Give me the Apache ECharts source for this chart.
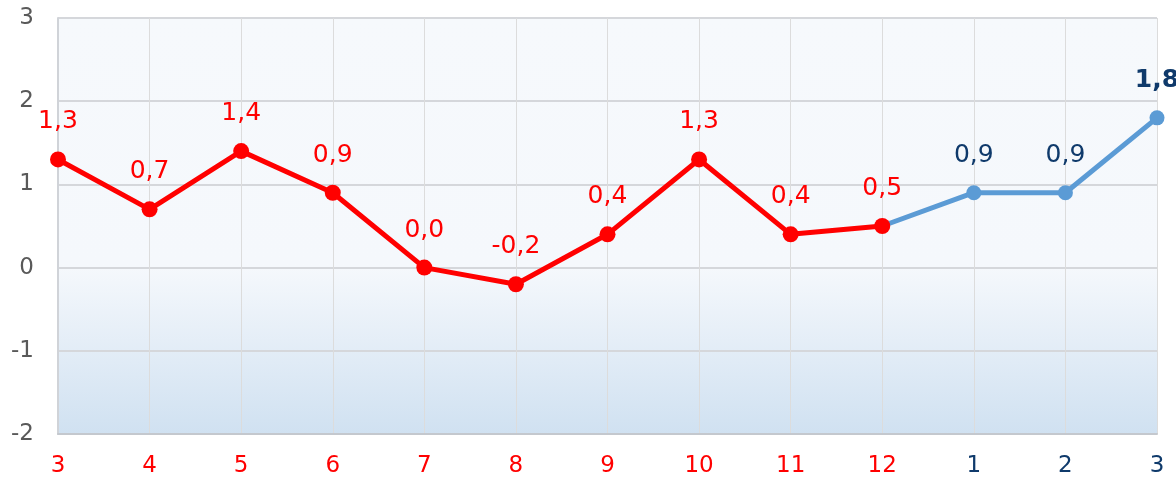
<!DOCTYPE html>
<html>
<head>
<meta charset="utf-8">
<script src="https://cdn.jsdelivr.net/npm/echarts@6/dist/echarts.min.js"></script>
<style>
  html, body { margin: 0; padding: 0; background: #fff; }
  #chart { width: 1176px; height: 478px; }
</style>
</head>
<body>
<div id="chart"></div>
<script>
// months: 3..12 of one year (red), then 1..3 of the next (blue)
const months = ['3', '4', '5', '6', '7', '8', '9', '10', '11', '12', '1', '2', '3'];
const actual = [1.3, 0.7, 1.4, 0.9, 0.0, -0.2, 0.4, 1.3, 0.4, 0.5];
const forecast = [0.5, 0.9, 0.9, 1.8];
const yTicks = { min: -2, max: 3, interval: 1 };

const RED = '#ff0000';
const BLUE = '#5b9bd5';
const NAVY = '#0f3a6b';
const FONT = '"DejaVu Sans", Verdana, sans-serif';

// blue series picks up at the last red point
const forecastData = months.map((m, i) => {
    const k = i - (actual.length - 1);
    if (k < 0) return null;
    if (k === 0) return { value: forecast[0], symbolSize: 0, label: { show: false } };
    if (i === months.length - 1) return { value: forecast[k], label: { fontWeight: 'bold' } };
    return forecast[k];
});

const fmt = p => p.value.toFixed(1).replace('.', ',');

const chart = echarts.init(document.getElementById('chart'));
chart.setOption({
    animation: false,
    grid: {
        left: 58, right: 19, top: 18, bottom: 43,
        show: true,
        borderWidth: 0,
        backgroundColor: {
            type: 'linear', x: 0, y: 0, x2: 0, y2: 1,
            colorStops: [
                { offset: 0, color: '#f6f9fc' },
                { offset: 0.6, color: '#f5f8fc' },
                { offset: 1, color: '#d0e1f1' }
            ]
        }
    },
    xAxis: {
        type: 'category',
        data: months,
        boundaryGap: false,
        axisLine: { show: true, onZero: false, lineStyle: { color: '#c4c8ce', width: 2 } },
        axisTick: { show: false },
        splitLine: { show: true, lineStyle: { color: '#dcdcdc', width: 1 } },
        axisLabel: {
            margin: 21,
            fontFamily: FONT,
            fontSize: 23,
            color: (v, i) => (i < actual.length ? RED : NAVY)
        }
    },
    yAxis: {
        type: 'value',
        min: yTicks.min, max: yTicks.max, interval: yTicks.interval,
        axisLine: { show: true, lineStyle: { color: '#d0d3d8', width: 2 } },
        axisTick: { show: false },
        splitLine: { lineStyle: { color: '#d5d7db', width: 2 } },
        axisLabel: { margin: 24, fontFamily: FONT, fontSize: 23, color: '#595959' }
    },
    series: [
        {
            type: 'line',
            data: forecastData,
            z: 2,
            lineStyle: { color: BLUE, width: 5 },
            itemStyle: { color: BLUE },
            symbol: 'circle',
            symbolSize: 15,
            label: {
                show: true, position: 'top', distance: 17,
                fontFamily: FONT, fontSize: 25, color: NAVY,
                formatter: fmt
            }
        },
        {
            type: 'line',
            data: actual,
            z: 3,
            lineStyle: { color: RED, width: 5 },
            itemStyle: { color: RED },
            symbol: 'circle',
            symbolSize: 16,
            label: {
                show: true, position: 'top', distance: 17,
                fontFamily: FONT, fontSize: 25, color: RED,
                formatter: fmt
            }
        }
    ]
});
</script>
</body>
</html>
